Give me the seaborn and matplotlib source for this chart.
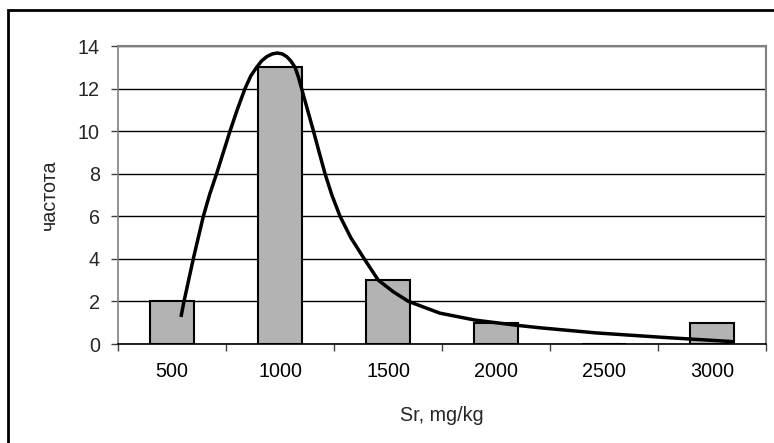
import matplotlib
matplotlib.use("Agg")
import matplotlib.pyplot as plt
import seaborn as sns
import pandas as pd
from matplotlib.patches import Rectangle

categories = ["500", "1000", "1500", "2000", "2500", "3000"]
counts = [2, 13, 3, 1, 0, 1]

# smooth fitted curve (x in category positions)
curve_x = [0.083, 0.111, 0.197, 0.29, 0.35, 0.413, 0.475, 0.537, 0.607, 0.676, 0.73, 0.784,
           0.83, 0.877, 0.93, 0.975, 1.02, 1.062, 1.10, 1.139, 1.17, 1.20, 1.255, 1.31,
           1.363, 1.417, 1.48, 1.556, 1.655, 1.78, 1.91, 2.05, 2.19, 2.48, 2.81, 3.19,
           3.41, 3.93, 4.55, 5.20]
curve_y = [1.27, 2.0, 4.0, 6.0, 7.05, 8.0, 9.0, 10.0, 11.05, 12.0, 12.6, 13.0,
           13.3, 13.5, 13.63, 13.67, 13.63, 13.5, 13.3, 13.0, 12.55, 12.0, 11.0, 10.0,
           9.0, 8.0, 7.0, 6.0, 5.0, 4.0, 3.0, 2.45, 2.0, 1.45, 1.12, 0.88,
           0.76, 0.52, 0.31, 0.11]

sns.set_style("white")
plt.rcParams['font.family'] = ['Liberation Sans', 'DejaVu Sans']

W, H = 774, 443
FS = 14.2
fig = plt.figure(figsize=(W / 100, H / 100), dpi=100)
ax = fig.add_axes([118 / W, 1 - 344 / H, (766 - 118) / W, (344 - 46) / H])

df = pd.DataFrame({"cat": categories, "n": counts})
sns.barplot(data=df, x="cat", y="n", order=categories, color="#b3b3b3",
            width=0.4, edgecolor="black", linewidth=1.5, saturation=1, ax=ax, zorder=3)
for p in ax.patches:
    p.set_facecolor("#b3b3b3")

ax.plot(curve_x, curve_y, color="black", lw=2.5, zorder=4, solid_capstyle="butt",
        solid_joinstyle="round")

ax.set_xlim(-0.5, 5.5)
ax.set_ylim(0, 14)
ax.set_yticks(range(0, 15, 2))
ax.grid(axis="y", color="black", lw=1.0, zorder=0)
ax.set_axisbelow(True)

for s in ["top", "right"]:
    ax.spines[s].set_color("#808080")
    ax.spines[s].set_linewidth(1.5)
ax.spines["left"].set_color("#808080")
ax.spines["left"].set_linewidth(1.2)
ax.spines["bottom"].set_color("black")
ax.spines["bottom"].set_linewidth(1.2)

ax.set_xticks(range(6))
ax.set_xticklabels(categories)
ax.set_xticks([i + 0.5 for i in range(-1, 6)], minor=True)
ax.tick_params(axis="x", which="major", length=0, pad=13, labelsize=FS, colors="black")
ax.tick_params(axis="x", which="minor", length=5, width=1, color="#404040", direction="out", bottom=True)
ax.tick_params(axis="y", which="major", length=5, width=1, color="#404040", direction="out",
               left=True, pad=8, labelsize=FS)

ax.set_xlabel("Sr, mg/kg", fontsize=FS, labelpad=18)
ax.set_ylabel("частота", fontsize=FS, labelpad=14)

fig.patches.append(Rectangle((8 / W, -0.1), 1.2, 1 - 10 / H + 0.1, transform=fig.transFigure,
                             fill=False, edgecolor="black", linewidth=2, zorder=10))

fig.savefig("out.png", dpi=100)
